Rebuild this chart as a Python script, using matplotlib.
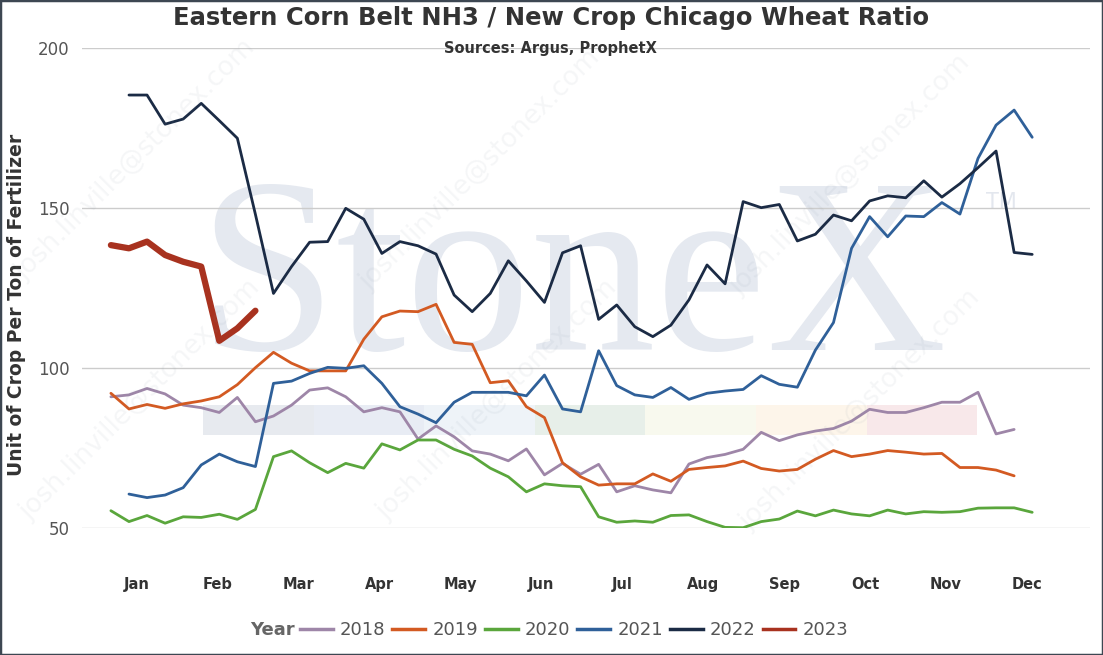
import numpy as np
import matplotlib.pyplot as plt
from matplotlib.patches import Rectangle
from matplotlib.lines import Line2D

# weekly values (week 0 = first week of Jan)
y2018 = [91.0, 91.6, 93.6, 91.9, 88.4, 87.6, 86.1, 90.8, 83.2, 85.0,
         88.4, 93.1, 93.8, 91.0, 86.3, 87.6, 86.3, 77.8, 81.9, 78.5,
         74.1, 73.1, 71.0, 74.7, 66.6, 70.2, 66.8, 69.9, 61.3, 63.2,
         61.9, 61.0, 70.0, 72.0, 73.0, 74.6, 79.9, 77.3, 79.1, 80.3,
         81.1, 83.4, 87.1, 86.1, 86.1, 87.6, 89.3, 89.3, 92.4, 79.4,
         80.8]
y2019 = [92.1, 87.2, 88.6, 87.4, 88.8, 89.7, 91.0, 94.8, 100.1, 104.9,
         101.5, 99.1, 99.1, 99.1, 109.0, 116.0, 117.8, 117.6, 119.9, 108.0,
         107.4, 95.4, 96.0, 87.9, 84.5, 70.4, 66.0, 63.4, 63.8, 63.8,
         66.9, 64.6, 68.3, 68.9, 69.4, 70.9, 68.6, 67.8, 68.3, 71.5,
         74.2, 72.3, 73.1, 74.2, 73.7, 73.1, 73.3, 68.9, 68.9, 68.1,
         66.3]
y2020 = [55.4, 52.0, 53.9, 51.5, 53.5, 53.3, 54.3, 52.7, 55.8, 72.3,
         74.1, 70.4, 67.3, 70.2, 68.7, 76.3, 74.4, 77.5, 77.5, 74.6,
         72.5, 68.7, 66.0, 61.3, 63.8, 63.2, 62.9, 53.5, 51.8, 52.2,
         51.8, 53.9, 54.1, 52.0, 50.2, 50.1, 52.0, 52.8, 55.3, 53.8,
         55.6, 54.4, 53.8, 55.6, 54.4, 55.1, 54.9, 55.1, 56.2, 56.3,
         56.3, 54.9]
y2021 = [60.6, 59.5, 60.3, 62.6, 69.7, 73.1, 70.7, 69.2, 95.2, 95.9,
         98.3, 100.2, 99.9, 100.7, 95.2, 87.9, 85.6, 82.9, 89.3, 92.4,
         92.4, 92.4, 91.3, 97.8, 87.2, 86.3, 105.4, 94.5, 91.6, 90.8,
         93.9, 90.2, 92.1, 92.8, 93.3, 97.6, 94.9, 94.0, 105.6, 114.2,
         137.4, 147.3, 141.0, 147.5, 147.3, 151.7, 148.1, 165.5, 175.9, 180.6,
         172.1]
y2022 = [185.3, 185.3, 176.2, 177.8, 182.7, 177.3, 171.8, 148.0, 123.3, 131.7,
         139.3, 139.5, 149.9, 146.5, 135.8, 139.5, 138.2, 135.6, 122.8, 117.6,
         123.3, 133.5, 127.2, 120.5, 136.0, 138.2, 115.2, 119.7, 112.9, 109.8,
         113.4, 121.3, 132.2, 126.3, 152.0, 150.1, 151.1, 139.7, 141.8, 147.8,
         146.0, 152.2, 153.8, 153.2, 158.5, 153.4, 157.6, 162.6, 167.8, 136.1,
         135.5]
y2023 = [138.4, 137.4, 139.5, 135.3, 133.2, 131.7, 108.5, 112.4, 117.9]

# first week of each series
first_week = {"2018": 0, "2019": 0, "2020": 0, "2021": 1, "2022": 1, "2023": 0}
years = ["2018", "2019", "2020", "2021", "2022", "2023"]
values = [y2018, y2019, y2020, y2021, y2022, y2023]
colors = ["#9e86a8", "#d35a22", "#5aa63c", "#2f6099", "#1b2b45", "#a8321f"]
months = ["Jan", "Feb", "Mar", "Apr", "May", "Jun",
          "Jul", "Aug", "Sep", "Oct", "Nov", "Dec"]
band_colors = ["#e7eaef", "#e8ecf4", "#eef3f8", "#e7efe9",
               "#f8f9ee", "#fdf5ea", "#f8e8ea"]

W, H = 1103, 655
fig = plt.figure(figsize=(W / 100, H / 100), dpi=100)
ax = fig.add_axes([82 / W, 1 - 528 / H, (1090 - 82) / W, 480 / H])

# background watermarks
ax.text(0.486, 0.37, "StoneX", transform=ax.transAxes, ha="center",
        va="baseline", fontsize=180, family="Liberation Serif",
        color="#e5e9f0", zorder=0)
ax.text(0.912, 0.679, "TM", transform=ax.transAxes, ha="center",
        va="center", fontsize=15, color="#e3e7ee", zorder=0)
bw = (0.888 - 0.12) / len(band_colors)
for k, c in enumerate(band_colors):
    ax.add_patch(Rectangle((0.12 + k * bw, 0.194), bw, 0.062,
                           transform=ax.transAxes, color=c, lw=0, zorder=0.5))

for yr, vals, c in zip(years, values, colors):
    x = first_week[yr] + np.arange(len(vals))
    lw = 4.5 if yr == "2023" else 2.0
    ax.plot(x, vals, color=c, lw=lw, solid_capstyle="round", zorder=3)

ax.set_xlim(-1.6, 54.2)
ax.set_ylim(50, 200)
ax.set_yticks([50, 100, 150, 200])
ax.set_xticks(1.43 + 4.48 * np.arange(12))
ax.set_xticklabels(months, fontweight="bold", fontsize=10.5, color="#333333")
ax.tick_params(axis="x", length=0, pad=35)
ax.tick_params(axis="y", length=0, pad=9, labelsize=12, labelcolor="#555555")
ax.grid(axis="y", color="#cccccc", lw=1)
ax.set_axisbelow(True)
for s in ax.spines.values():
    s.set_visible(False)

fig.text(0.5, 1 - 18 / H, "Eastern Corn Belt NH3 / New Crop Chicago Wheat Ratio",
         ha="center", va="center", fontsize=17.5, fontweight="bold",
         color="#333333")
fig.text(550 / W, 1 - 48 / H, "Sources: Argus, ProphetX", ha="center",
         va="center", fontsize=10.5, fontweight="bold", color="#333333")
fig.text(17 / W, 1 - 305 / H, "Unit of Crop Per Ton of Fertilizer",
         rotation=90, ha="center", va="center", fontsize=13.5,
         fontweight="bold", color="#333333")

handles = [Line2D([], [], color=c, lw=2.5) for c in colors]
fig.text(272 / W, 1 - 630 / H, "Year", ha="center", va="center",
         fontsize=13, fontweight="bold", color="#666666")
leg = fig.legend(handles, years, loc="center left",
                 bbox_to_anchor=(300 / W, 1 - 630 / H), ncol=6, frameon=False,
                 fontsize=13, handlelength=1.8, handletextpad=0.4,
                 columnspacing=0.4, borderpad=0, borderaxespad=0)
for t in leg.get_texts():
    t.set_color("#555555")

# diagonal e-mail watermark
for cx, cy in [(135, 160), (140, 400), (480, 170), (497, 400),
               (850, 175), (860, 410)]:
    fig.text(cx / W, 1 - cy / H, "josh.linville@stonex.com", rotation=45,
             ha="center", va="center", fontsize=19, color="#8090a0",
             alpha=0.08, zorder=5)

fig.patches.append(Rectangle((0, 0), 1, 1, transform=fig.transFigure,
                             fill=False, ec="#3d4752", lw=2.5))

fig.savefig("out.png", dpi=100)
